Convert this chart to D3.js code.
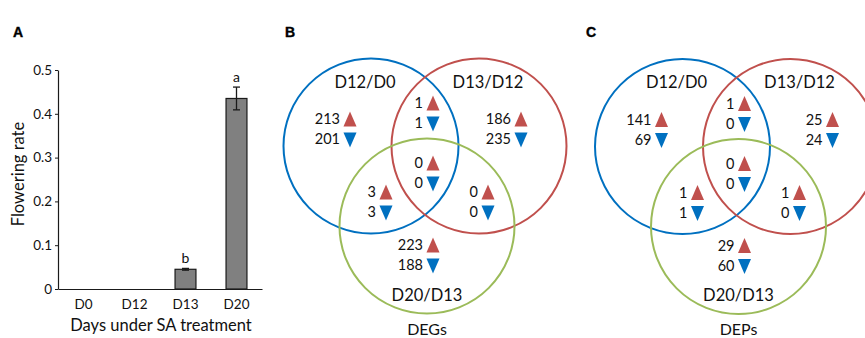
<!DOCTYPE html>
<html>
<head>
<meta charset="utf-8">
<script src="https://cdn.jsdelivr.net/npm/d3@7"></script>
<style>
  html, body { margin: 0; padding: 0; background: #fff; }
  svg { display: block; font-family: Lato, "Open Sans", sans-serif; }
</style>
</head>
<body>
<svg id="fig" width="865" height="338"></svg>
<script>
// Panel A: flowering rate by day
const days = ["D0", "D12", "D13", "D20"];
const floweringRate = [0, 0, 0.045, 0.435];
const rateError = [0, 0, 0.002, 0.026];
const sigLetters = ["", "", "b", "a"];
const yTicks = [0, 0.1, 0.2, 0.3, 0.4, 0.5];

// Panels B and C: Venn regions (A = D12/D0, B = D13/D12, C = D20/D13)
const vennSets = ["D12/D0", "D13/D12", "D20/D13"];
const regions = ["A", "AB", "B", "ABC", "AC", "BC", "C"];
const degUp = [213, 1, 186, 0, 3, 0, 223];
const degDown = [201, 1, 235, 0, 3, 0, 188];
const depUp = [141, 1, 25, 0, 1, 1, 29];
const depDown = [69, 0, 24, 0, 1, 0, 60];

const RED = "#c0504d", BLUE = "#0070c0", GREEN = "#9bbb59";
const svg = d3.select("#fig");

// panel letters
svg.selectAll("text.panel")
  .data([["A", 13], ["B", 285], ["C", 586]])
  .join("text")
  .attr("x", d => d[1]).attr("y", 37)
  .attr("font-family", "Liberation Sans, Arial, sans-serif")
  .attr("font-weight", "bold").attr("font-size", 14)
  .attr("stroke", "#000").attr("stroke-width", 0.4)
  .text(d => d[0]);

// ---------- bar chart ----------
const x = d3.scaleBand().domain(days).range([58, 262])
  .paddingInner(0.59).paddingOuter(0.295);
const y = d3.scaleLinear().domain([0, 0.5]).range([289, 70]);

const bars = days.map((d, i) => ({ day: d, v: floweringRate[i], e: rateError[i], s: sigLetters[i] }));
const gA = svg.append("g");

gA.selectAll("rect.bar")
  .data(bars.filter(d => d.v > 0))
  .join("rect")
  .attr("x", d => x(d.day)).attr("width", x.bandwidth())
  .attr("y", d => y(d.v)).attr("height", d => y(0) - y(d.v))
  .attr("fill", "#808080").attr("stroke", "#1a1a1a").attr("stroke-width", 1.2);

// error bars
const eb = gA.selectAll("g.err").data(bars.filter(d => d.v > 0)).join("g")
  .attr("stroke", "#1a1a1a").attr("stroke-width", 1.3);
eb.append("line")
  .attr("x1", d => x(d.day) + x.bandwidth() / 2).attr("x2", d => x(d.day) + x.bandwidth() / 2)
  .attr("y1", d => y(d.v + d.e)).attr("y2", d => y(d.v - d.e));
eb.append("line")
  .attr("x1", d => x(d.day) + x.bandwidth() / 2 - 3.5).attr("x2", d => x(d.day) + x.bandwidth() / 2 + 3.5)
  .attr("y1", d => y(d.v + d.e)).attr("y2", d => y(d.v + d.e));
eb.append("line")
  .attr("x1", d => x(d.day) + x.bandwidth() / 2 - 3.5).attr("x2", d => x(d.day) + x.bandwidth() / 2 + 3.5)
  .attr("y1", d => y(d.v - d.e)).attr("y2", d => y(d.v - d.e));

// significance letters
gA.selectAll("text.sig").data(bars.filter(d => d.s)).join("text")
  .attr("x", d => x(d.day) + x.bandwidth() / 2)
  .attr("y", d => y(d.v + d.e) - 5)
  .attr("text-anchor", "middle").attr("font-size", 14).attr("fill", "#111")
  .text(d => d.s);

// axes
const yAxis = gA.append("g").attr("transform", "translate(58,0)")
  .call(d3.axisLeft(y).tickValues(yTicks).tickSize(3).tickSizeOuter(0)
    .tickFormat(d => d === 0 ? "0" : d3.format(".1f")(d)));
yAxis.select(".domain").attr("stroke", "#1a1a1a").attr("stroke-width", 1.2);
yAxis.selectAll(".tick line").attr("stroke", "#1a1a1a");
yAxis.selectAll(".tick text").attr("font-family", "Lato, sans-serif").attr("font-size", 13.5)
  .attr("fill", "#111").attr("x", -6);

const xAxis = gA.append("g").attr("transform", "translate(0,289)")
  .call(d3.axisBottom(x).tickSize(0).tickSizeOuter(0));
xAxis.select(".domain").attr("stroke", "#1a1a1a").attr("stroke-width", 1.2);
xAxis.selectAll(".tick text").attr("font-family", "Lato, sans-serif").attr("font-size", 13.5)
  .attr("fill", "#111").attr("y", 10);

gA.append("text").attr("x", 161).attr("y", 331).attr("text-anchor", "middle")
  .attr("font-size", 16.5).attr("fill", "#111").text("Days under SA treatment");
gA.append("text").attr("transform", "translate(24,174) rotate(-90)").attr("text-anchor", "middle")
  .attr("font-size", 16.5).attr("fill", "#111").text("Flowering rate");

// ---------- Venn diagrams ----------
// circle centres relative to the first circle
const circleOffsets = [[0, 0], [108, 0], [56, 80]];
const circleColors = [BLUE, RED, GREEN];
const R = 87.5;
const labelOffsets = [[-6, -64], [117, -64], [56, 149]];
// triangle column x and upper-row y for each region
const regionOffsets = {
  A: [-21, -27], AB: [62, -43], B: [150, -27], ABC: [62, 17],
  AC: [15, 46], BC: [117, 46], C: [62, 99]
};

function triPath(up) {
  const w = 6.5, h = 7.5;
  return up ? `M${-w},${h}L${w},${h}L0,${-h}Z` : `M${-w},${-h}L${w},${-h}L0,${h}Z`;
}

function venn(cx, cy, up, down, title) {
  const g = svg.append("g").attr("transform", `translate(${cx},${cy})`);
  g.selectAll("circle").data(circleOffsets).join("circle")
    .attr("cx", d => d[0]).attr("cy", d => d[1]).attr("r", R)
    .attr("fill", "none").attr("stroke", (d, i) => circleColors[i]).attr("stroke-width", 2);

  g.selectAll("text.set").data(vennSets).join("text")
    .attr("x", (d, i) => labelOffsets[i][0]).attr("y", (d, i) => labelOffsets[i][1])
    .attr("dy", "0.35em").attr("text-anchor", "middle")
    .attr("font-size", 16.5).attr("fill", "#111").text(d => d);

  const rows = regions.map((r, i) => ({ r, up: up[i], down: down[i] }));
  const cell = g.selectAll("g.cell").data(rows).join("g")
    .attr("transform", d => `translate(${regionOffsets[d.r][0]},${regionOffsets[d.r][1]})`);
  cell.append("path").attr("d", triPath(true)).attr("fill", RED);
  cell.append("path").attr("d", triPath(false)).attr("transform", "translate(0,21)").attr("fill", BLUE);
  cell.append("text").attr("x", -10).attr("y", 0).attr("dy", "0.35em")
    .attr("text-anchor", "end").attr("font-size", 14.5).attr("fill", "#111").text(d => d.up);
  cell.append("text").attr("x", -10).attr("y", 20).attr("dy", "0.35em")
    .attr("text-anchor", "end").attr("font-size", 14.5).attr("fill", "#111").text(d => d.down);

  g.append("text").attr("x", 56).attr("y", 183).attr("dy", "0.35em").attr("text-anchor", "middle")
    .attr("font-size", 16).attr("fill", "#111").text(title);
}

venn(371, 146, degUp, degDown, "DEGs");
venn(682.5, 146.5, depUp, depDown, "DEPs");
</script>
</body>
</html>
